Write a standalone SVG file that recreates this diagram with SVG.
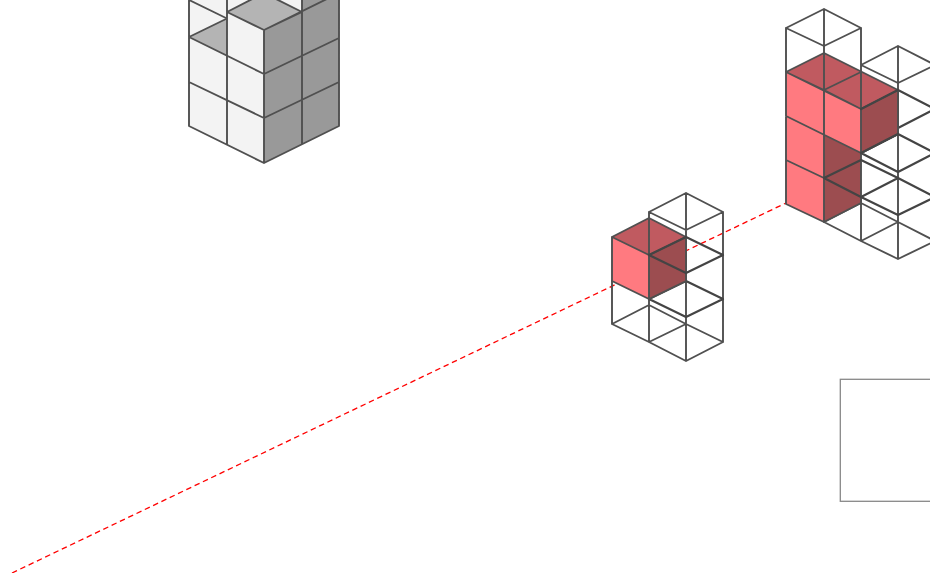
<svg xmlns="http://www.w3.org/2000/svg" width="930" height="573" viewBox="0 0 930 573">
<style>
.w{fill:none;stroke:#505050;stroke-width:1.9;stroke-linejoin:round;stroke-linecap:round}
.d{fill:none;stroke:#444;stroke-width:2.2;stroke-linejoin:round;stroke-linecap:round}
.lf{fill:#f3f3f3}.rf{fill:#999}.tf{fill:#b4b4b4}
.rl{fill:#ff7a80}.rr{fill:#9c4d50}.rt{fill:#c05a60}
</style>
<rect width="930" height="573" fill="#fff"/>
<g id="connectors"><path d="M12 573L786 203" fill="none" stroke="#f00" stroke-width="1.3" stroke-dasharray="5.500 3.700"/></g>
<g id="gray-stack">
<path class="lf" d="M189 -1V126L264 163V30L227 12V-1Z"/>
<path class="lf" d="M227 -1H302V12L264 30L227 12Z"/>
<path class="rf" d="M264 30L302 12V-1H339V126L264 163Z"/>
<path class="tf" d="M189 37L227 18.500V56Z"/>
<path class="tf" d="M227 12L264 -7L302 12L264 30Z"/>
<path class="w" d="M189 -1V126L264 163L339 126V-1M227 -1V144M264 30V163M302 -1V144M189 37L264 74L339 38M189 82L264 118L339 82M189 37L227 18.500M189 0L227 18.500M227 12L264 -7M264 -7L302 12L264 30L227 12M264 30L339 -7"/>
</g>
<g id="mid-stack">
<path class="w" d="M686 193L723 212L686 230L649 212ZM649 212V237M723 212V342M686 193V361M612 324L649 305L686 324L649 342ZM649 342L686 324L723 342L686 361ZM612 281V324M649 299V342"/>
<path class="d" d="M649 255L686 237L723 255L686 273ZM649 299L686 281L723 299L686 317Z"/>
<path class="rl" d="M612 237L649 255V299L612 281Z"/>
<path class="rr" d="M649 255L686 237V281L649 299Z"/>
<path class="rt" d="M612 237L649 218L686 237L649 255Z"/>
<path class="w" d="M612 237L649 218L686 237L649 255ZM612 237V281L649 299L686 281V237M649 218V299"/>
<path class="d" d="M649 255L686 273M649 255L686 237"/>
</g>
<g id="right-stack">
<path class="w" d="M824 9L861 28L824 46L786 28ZM786 28V72M861 28V72M824 9V53M861 65L898 46L935 65L898 83ZM898 46V259M824 222L861 203L898 222L861 241ZM861 241L898 222L935 241L898 259ZM861 197V241"/>
<path class="d" d="M861 109L898 90L935 109L898 128ZM861 153L898 134L935 153L898 172ZM861 197L898 178L935 197L898 215ZM824 178L861 160L898 178L861 197Z"/>
<path class="rl" d="M786 72L861 109V153L824 135V222L786 204Z"/>
<path class="rr" d="M861 109L898 90V134L861 153ZM824 135L861 153V203L824 222Z"/>
<path class="rt" d="M786 72L824 53L898 90L861 109Z"/>
<path class="w" d="M786 72L824 53L898 90L861 109ZM786 72L824 90L861 72M824 90L861 109M824 53V90M861 72V109M898 90V134L861 153V203L824 222L786 204V72M824 90V222M861 109V153M786 116L861 153M786 160L824 178"/>
<path class="d" d="M824 178L861 197M824 178L861 160M861 109L898 90M861 153L898 134"/>
</g>
<g id="box"><rect x="840.300" y="379.300" width="100" height="122" fill="none" stroke="#888" stroke-width="1.300"/></g>
</svg>
